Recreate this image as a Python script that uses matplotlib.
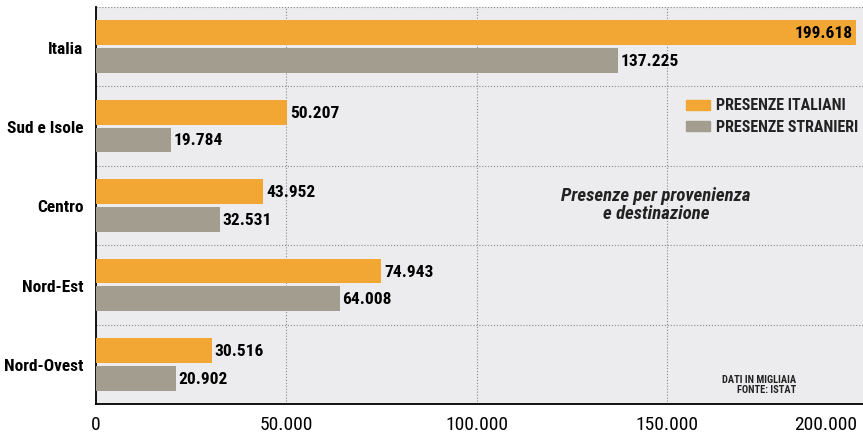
import numpy as np
import matplotlib.pyplot as plt
from matplotlib.patches import Rectangle

# Data (thousands of presences)
regioni = ['Italia', 'Sud e Isole', 'Centro', 'Nord-Est', 'Nord-Ovest']
italiani = [199618, 50207, 43952, 74943, 30516]
stranieri = [137225, 19784, 32531, 64008, 20902]
xticks = [0, 50000, 100000, 150000, 200000]
xticklabels = ['0', '50.000', '100.000', '150.000', '200.000']

plt.rcParams['font.family'] = ['Roboto Condensed', 'Archivo Narrow', 'DejaVu Sans']

col_it = '#f2a634'
col_st = '#a39d90'

fig = plt.figure(figsize=(8.63, 4.39), dpi=100)
ax = fig.add_axes([96 / 863, 1 - 405 / 439, 1 - 96 / 863, 397 / 439])
ax.set_facecolor('#ececee')

y = np.arange(len(regioni))
h = 0.31
off = 0.175
ax.barh(y - off, italiani, height=h, color=col_it, zorder=3)
ax.barh(y + off, stranieri, height=h, color=col_st, zorder=3)

ax.set_xlim(0, 201500)
ax.set_ylim(len(regioni) - 0.5, -0.5)

def fmt(v):
    return f'{v:,}'.replace(',', '.')

for i, (a, b) in enumerate(zip(italiani, stranieri)):
    if a > 190000:
        ax.text(a - 900, i - off, fmt(a), ha='right', va='center',
                fontsize=12.5, fontweight='bold', zorder=4)
    else:
        ax.text(a + 700, i - off, fmt(a), ha='left', va='center',
                fontsize=12.5, fontweight='bold', zorder=4)
    ax.text(b + 700, i + off, fmt(b), ha='left', va='center',
            fontsize=12.5, fontweight='bold', zorder=4)

# dotted grid
for x in xticks[1:4]:
    ax.axvline(x, color='#888888', lw=0.8, ls=':', zorder=1)
for s in np.arange(-0.5, len(regioni) - 0.5, 1.0):
    ax.axhline(s, color='#888888', lw=0.8, ls=':', zorder=1)

ax.set_yticks(y)
ax.set_yticklabels(regioni, fontsize=12.5, fontweight='bold')
ax.set_xticks(xticks)
ax.set_xticklabels(xticklabels, fontsize=14)
ax.tick_params(length=0, pad=8)
ax.tick_params(axis='y', pad=9)
lab = ax.get_xticklabels()
lab[-1].set_horizontalalignment('right')
for sp in ['top', 'right']:
    ax.spines[sp].set_visible(False)
ax.spines['left'].set_linewidth(1.3)
ax.spines['bottom'].set_linewidth(1.3)

# legend
for k, (txt, c) in enumerate([('PRESENZE ITALIANI', col_it), ('PRESENZE STRANIERI', col_st)]):
    yy = 1 - (106 + k * 21) / 439
    fig.patches.append(Rectangle((686 / 863, yy - 5 / 439), 24 / 863, 10 / 439,
                                 transform=fig.transFigure, color=c, zorder=5))
    fig.text(716 / 863, yy, txt, ha='left', va='center', fontsize=11.5,
             fontweight='bold', color='#222222')

fig.text(656 / 863, 1 - 205 / 439, 'Presenze per provenienza\ne destinazione',
         ha='center', va='center', fontsize=13.5, fontweight='bold', style='italic',
         linespacing=0.95, color='#222222')

fig.text(796 / 863, 1 - 385 / 439, 'DATI IN MIGLIAIA\nFONTE: ISTAT', ha='right',
         va='center', fontsize=7.5, fontweight='bold',
         linespacing=1.05, color='#222222', multialignment='right')

fig.savefig('out.png', dpi=100, facecolor='white')
